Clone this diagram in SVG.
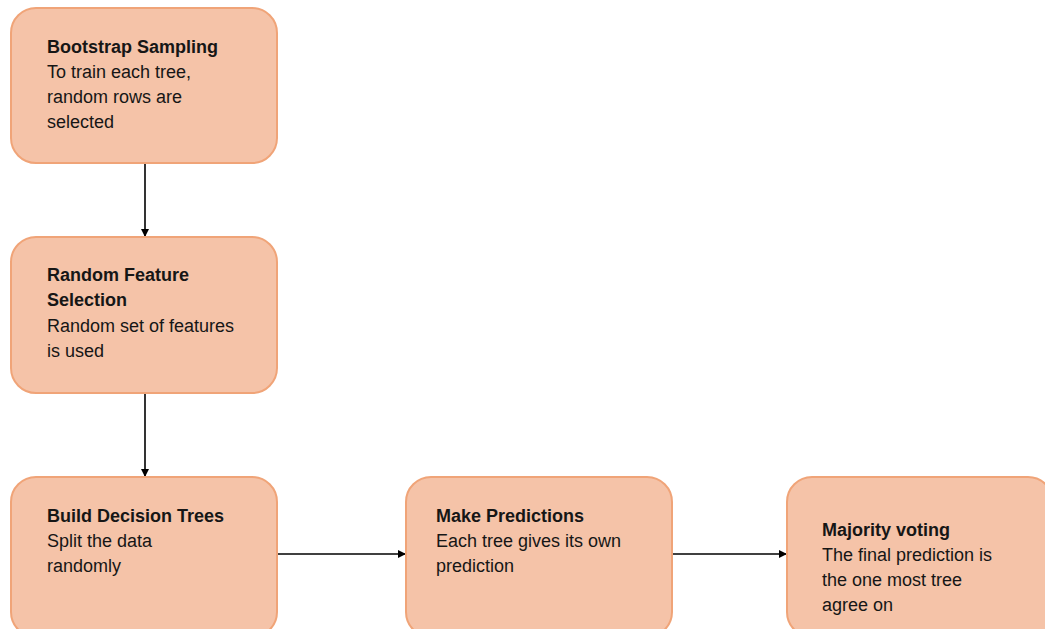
<svg xmlns="http://www.w3.org/2000/svg" width="1045" height="629" viewBox="0 0 1045 629">
<style>
.box{fill:#F5C3A8;stroke:#F0A478;stroke-width:2}
text{font-family:"Liberation Sans",Arial,sans-serif;font-size:18px;fill:#161616}
.t{font-weight:bold}
.c{stroke:#000;stroke-width:1.6;fill:none;marker-end:url(#ah)}
</style>
<defs>
<marker id="ah" viewBox="0 0 10 10" refX="10" refY="5" markerWidth="5" markerHeight="5" orient="auto" markerUnits="strokeWidth">
<path d="M0,0L10,5L0,10z" fill="#000"/>
</marker>
</defs>
<rect width="1045" height="629" fill="#fff"/>
<g id="connectors">
<line class="c" x1="145" y1="163" x2="145" y2="237"/>
<line class="c" x1="145" y1="393" x2="145" y2="477"/>
<line class="c" x1="277" y1="554" x2="406" y2="554"/>
<line class="c" x1="672" y1="554" x2="787" y2="554"/>
</g>
<g id="bootstrap">
<rect class="box" x="11" y="8" width="266" height="155" rx="25"/>
<text x="47" y="53" class="t">Bootstrap Sampling</text>
<text x="47" y="78">To train each tree,</text>
<text x="47" y="103">random rows are</text>
<text x="47" y="128">selected</text>
</g>
<g id="feature">
<rect class="box" x="11" y="237" width="266" height="156" rx="25"/>
<text x="47" y="281" class="t">Random Feature</text>
<text x="47" y="306" class="t">Selection</text>
<text x="47" y="332">Random set of features</text>
<text x="47" y="357">is used</text>
</g>
<g id="build">
<rect class="box" x="11" y="477" width="266" height="160" rx="25"/>
<text x="47" y="522" class="t">Build Decision Trees</text>
<text x="47" y="547">Split the data</text>
<text x="47" y="572">randomly</text>
</g>
<g id="predict">
<rect class="box" x="406" y="477" width="266" height="160" rx="25"/>
<text x="436" y="522" class="t">Make Predictions</text>
<text x="436" y="547">Each tree gives its own</text>
<text x="436" y="572">prediction</text>
</g>
<g id="vote">
<rect class="box" x="787" y="477" width="266" height="160" rx="25"/>
<text x="822" y="536" class="t">Majority voting</text>
<text x="822" y="561">The final prediction is</text>
<text x="822" y="586">the one most tree</text>
<text x="822" y="611">agree on</text>
</g>
</svg>
